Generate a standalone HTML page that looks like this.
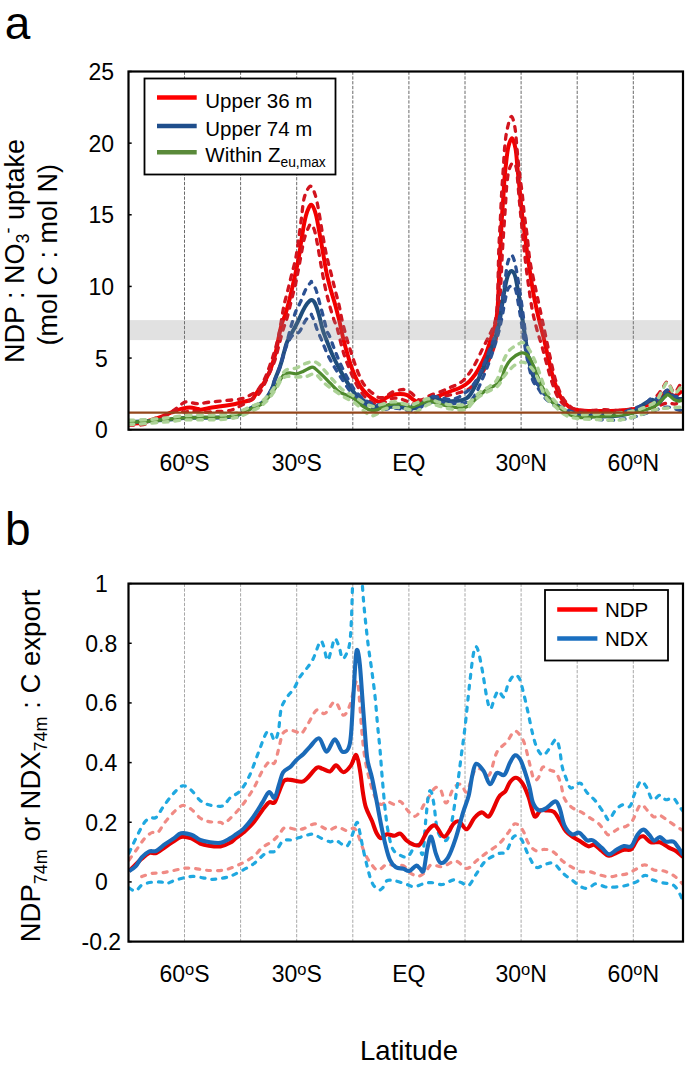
<!DOCTYPE html><html><head><meta charset="utf-8"><style>html,body{margin:0;padding:0;background:#fff;}svg{display:block;}</style></head><body>
<svg width="685" height="1069" viewBox="0 0 685 1069" font-family='"Liberation Sans", sans-serif'>
<defs><clipPath id="ca"><rect x="128.5" y="71.5" width="554.5" height="358.2"/></clipPath><clipPath id="cb"><rect x="128.5" y="583.6" width="554.5" height="358.0"/></clipPath></defs>
<rect width="100%" height="100%" fill="#fff"/>
<text x="4.8" y="39" font-size="46" fill="#000">a</text>
<text x="5" y="544.5" font-size="46" fill="#000">b</text>
<line x1="184.5" y1="71.5" x2="184.5" y2="429.7" stroke="#6a6a6a" stroke-width="1" stroke-dasharray="3.3 1.5"/>
<line x1="240.6" y1="71.5" x2="240.6" y2="429.7" stroke="#6a6a6a" stroke-width="1" stroke-dasharray="3.3 1.5"/>
<line x1="296.7" y1="71.5" x2="296.7" y2="429.7" stroke="#6a6a6a" stroke-width="1" stroke-dasharray="3.3 1.5"/>
<line x1="352.8" y1="71.5" x2="352.8" y2="429.7" stroke="#6a6a6a" stroke-width="1" stroke-dasharray="3.3 1.5"/>
<line x1="408.9" y1="71.5" x2="408.9" y2="429.7" stroke="#6a6a6a" stroke-width="1" stroke-dasharray="3.3 1.5"/>
<line x1="465.0" y1="71.5" x2="465.0" y2="429.7" stroke="#6a6a6a" stroke-width="1" stroke-dasharray="3.3 1.5"/>
<line x1="521.1" y1="71.5" x2="521.1" y2="429.7" stroke="#6a6a6a" stroke-width="1" stroke-dasharray="3.3 1.5"/>
<line x1="577.2" y1="71.5" x2="577.2" y2="429.7" stroke="#6a6a6a" stroke-width="1" stroke-dasharray="3.3 1.5"/>
<line x1="633.3" y1="71.5" x2="633.3" y2="429.7" stroke="#6a6a6a" stroke-width="1" stroke-dasharray="3.3 1.5"/>
<g clip-path="url(#ca)">
<path d="M129.0,423.5 C130.8,423.4 136.5,423.5 140.0,423.0 C143.5,422.5 146.2,421.7 150.0,420.5 C153.8,419.3 158.9,417.6 163.0,416.0 C167.1,414.4 171.4,412.3 174.7,411.0 C178.0,409.7 180.4,409.0 182.9,408.4 C185.4,407.8 187.4,407.3 189.9,407.4 C192.4,407.5 196.2,408.6 198.0,409.0 C199.8,409.4 199.1,410.0 201.0,409.8 C202.9,409.6 205.9,408.6 209.2,408.0 C212.5,407.4 217.0,406.9 220.9,406.3 C224.8,405.7 229.1,405.2 232.6,404.5 C236.1,403.8 238.7,403.0 241.9,402.2 C245.1,401.4 249.5,400.9 251.8,399.5 C254.1,398.1 254.4,395.8 255.8,394.0 C257.2,392.2 258.5,390.6 260.0,388.5 C261.5,386.4 263.3,383.9 264.6,381.7 C265.9,379.4 266.9,377.4 268.0,375.0 C269.1,372.6 269.9,371.2 271.2,367.4 C272.5,363.6 274.4,357.4 275.7,352.4 C276.9,347.4 277.7,342.1 278.7,337.4 C279.7,332.7 280.6,327.9 281.7,324.0 C282.8,320.1 284.0,318.4 285.4,314.1 C286.8,309.8 288.4,304.0 289.8,298.2 C291.2,292.4 292.7,285.8 294.1,279.3 C295.6,272.8 297.3,265.5 298.5,259.0 C299.7,252.5 300.4,246.2 301.4,240.2 C302.4,234.2 303.3,227.8 304.3,222.8 C305.3,217.9 306.4,213.5 307.6,210.5 C308.8,207.5 310.1,204.1 311.5,204.8 C312.9,205.5 314.6,209.8 315.9,214.5 C317.2,219.2 318.3,226.5 319.5,233.0 C320.7,239.5 321.9,246.5 323.1,253.3 C324.3,260.1 325.4,267.3 326.7,273.6 C328.0,279.9 329.7,285.7 331.1,291.0 C332.6,296.3 334.1,300.6 335.4,305.4 C336.7,310.2 337.8,314.5 339.1,319.9 C340.4,325.2 341.6,331.6 343.0,337.5 C344.4,343.4 345.9,349.1 347.7,355.0 C349.4,360.9 351.4,367.3 353.5,372.6 C355.6,377.9 358.1,382.9 360.5,386.6 C362.9,390.3 365.1,392.4 367.6,394.7 C370.1,397.0 373.7,399.5 375.7,400.6 C377.7,401.7 377.9,401.8 379.5,401.5 C381.1,401.2 382.9,399.7 385.0,398.6 C387.1,397.5 389.5,395.9 392.0,395.1 C394.5,394.3 397.7,393.9 400.2,393.9 C402.7,393.9 405.1,394.2 407.2,395.1 C409.3,396.0 411.1,398.3 413.0,399.5 C414.9,400.7 416.9,402.0 418.9,402.5 C420.8,403.0 423.0,402.8 424.7,402.5 C426.4,402.2 427.6,401.7 429.0,401.0 C430.4,400.3 431.2,399.4 433.0,398.5 C434.8,397.6 437.2,396.5 440.0,395.3 C442.8,394.1 446.7,392.8 450.0,391.5 C453.3,390.2 457.2,389.1 460.0,387.8 C462.8,386.5 465.0,385.1 467.0,383.5 C469.0,381.9 470.2,380.8 472.0,378.5 C473.8,376.2 475.8,373.8 478.0,369.9 C480.2,366.0 483.2,360.4 485.5,354.9 C487.8,349.4 489.9,341.9 491.5,336.9 C493.1,331.9 494.2,329.4 495.2,324.9 C496.2,320.4 496.9,317.4 497.5,309.9 C498.1,302.4 498.5,290.0 499.0,280.0 C499.5,270.0 499.9,259.8 500.3,249.9 C500.8,240.1 501.2,229.4 501.7,220.9 C502.2,212.4 502.7,206.4 503.2,199.2 C503.7,192.0 504.1,183.5 504.6,177.5 C505.1,171.5 505.5,168.1 506.1,163.0 C506.7,157.9 507.3,151.1 508.3,147.0 C509.3,142.9 510.7,138.1 511.9,138.3 C513.1,138.6 514.5,143.2 515.5,148.5 C516.5,153.8 517.0,162.9 517.7,170.2 C518.4,177.4 519.2,184.8 519.9,192.0 C520.6,199.2 521.2,206.5 522.0,213.7 C522.8,220.9 523.9,228.2 524.9,235.4 C525.9,242.7 526.4,247.4 527.8,257.2 C529.2,266.9 531.7,283.9 533.5,293.9 C535.3,303.9 536.8,310.1 538.5,317.4 C540.2,324.7 541.9,330.6 543.6,337.6 C545.3,344.6 546.9,352.5 548.6,359.5 C550.3,366.5 551.7,373.5 553.7,379.7 C555.7,385.9 557.9,392.1 560.4,396.6 C562.9,401.1 566.0,404.5 568.8,406.7 C571.6,408.9 573.7,409.3 577.2,410.0 C580.7,410.7 585.4,410.8 590.0,411.0 C594.6,411.2 600.0,411.1 605.0,411.0 C610.0,410.9 615.5,410.8 620.0,410.5 C624.5,410.2 628.7,410.0 632.0,409.5 C635.3,409.0 637.0,408.4 640.0,407.5 C643.0,406.6 647.0,405.2 650.0,404.0 C653.0,402.8 655.2,402.2 658.0,400.0 C660.8,397.8 664.3,391.7 667.0,391.0 C669.7,390.3 671.5,396.0 674.0,396.0 C676.5,396.0 680.7,391.8 682.0,391.0" fill="none" stroke="#f20000" stroke-width="4"  stroke-linejoin="round"/>
<path d="M129.0,423.0 C131.7,422.8 139.8,422.8 145.0,422.0 C150.2,421.2 155.8,419.5 160.0,418.0 C164.2,416.5 167.6,414.4 170.0,413.0 C172.4,411.6 173.1,410.7 174.7,409.5 C176.3,408.3 177.8,407.2 179.4,406.0 C181.0,404.8 182.4,403.2 184.0,402.5 C185.6,401.8 186.4,401.8 188.7,402.0 C191.0,402.2 194.6,403.7 198.0,403.7 C201.4,403.7 205.4,402.6 209.2,402.2 C213.0,401.8 217.0,401.4 220.9,401.0 C224.8,400.6 229.1,400.3 232.6,399.9 C236.1,399.5 239.0,399.5 241.9,398.7 C244.8,397.9 247.7,396.4 250.0,395.2 C252.3,394.0 254.2,393.1 255.9,391.7 C257.6,390.3 258.5,389.3 260.0,387.0 C261.5,384.7 263.3,381.7 265.0,378.0 C266.7,374.3 268.3,369.7 270.0,365.0 C271.7,360.3 273.5,355.2 275.0,350.0 C276.5,344.8 277.9,339.0 279.0,334.0 C280.1,329.0 280.7,324.7 281.5,319.9 C282.3,315.1 283.0,310.2 284.0,305.4 C285.0,300.6 286.4,295.8 287.6,291.0 C288.8,286.2 289.9,281.7 291.2,276.4 C292.5,271.1 294.4,265.0 295.6,259.0 C296.8,253.0 297.5,246.9 298.5,240.2 C299.5,233.4 300.4,225.6 301.4,218.5 C302.4,211.4 302.8,202.9 304.3,197.5 C305.8,192.1 308.5,186.7 310.3,186.2 C312.1,185.7 313.7,190.3 315.1,194.5 C316.5,198.7 317.6,204.8 318.8,211.2 C320.0,217.6 321.1,225.5 322.4,233.0 C323.7,240.5 325.1,249.0 326.7,256.2 C328.3,263.4 330.4,270.6 331.8,276.4 C333.2,282.2 334.2,286.2 335.4,291.0 C336.6,295.8 338.0,300.6 339.1,305.4 C340.2,310.2 340.8,314.5 342.0,319.9 C343.2,325.2 345.0,332.0 346.5,337.5 C348.0,343.0 349.6,347.8 351.2,352.7 C352.8,357.6 354.1,362.0 355.9,366.7 C357.6,371.4 359.8,377.0 361.7,380.7 C363.6,384.4 365.5,386.6 367.6,388.9 C369.8,391.2 372.7,393.3 374.6,394.7 C376.5,396.1 377.3,397.1 379.0,397.5 C380.7,397.9 382.8,397.8 385.0,396.9 C387.2,396.0 389.5,393.4 392.0,392.2 C394.5,391.0 397.9,390.3 400.2,389.9 C402.5,389.5 404.1,389.3 406.0,389.9 C407.9,390.5 410.1,392.0 411.9,393.4 C413.6,394.8 415.1,396.9 416.5,398.0 C417.9,399.1 418.6,399.9 420.0,400.0 C421.4,400.1 423.3,399.2 425.0,398.5 C426.7,397.8 427.3,396.7 430.0,395.5 C432.7,394.3 437.7,392.8 441.0,391.5 C444.3,390.2 447.3,388.7 450.0,387.5 C452.7,386.3 454.6,385.9 457.0,384.5 C459.4,383.1 461.6,382.2 464.4,379.3 C467.1,376.4 470.5,372.0 473.5,366.9 C476.5,361.8 479.8,354.4 482.5,348.9 C485.2,343.4 487.9,338.4 490.0,333.9 C492.1,329.4 493.8,327.6 495.0,322.0 C496.2,316.4 496.9,312.0 497.5,300.0 C498.1,288.0 498.3,263.1 498.8,249.9 C499.3,236.7 499.8,230.6 500.3,220.9 C500.8,211.2 501.2,200.4 501.7,192.0 C502.2,183.6 502.7,177.4 503.2,170.2 C503.7,162.9 504.0,155.0 504.6,148.5 C505.2,142.0 505.7,136.4 506.8,131.1 C507.9,125.8 509.9,117.3 511.2,116.6 C512.5,115.9 513.8,121.4 514.8,126.7 C515.8,132.0 516.3,141.2 517.0,148.5 C517.7,155.8 518.3,162.9 519.1,170.2 C519.9,177.4 521.1,184.8 522.0,192.0 C522.9,199.2 523.4,206.5 524.2,213.7 C525.1,220.9 526.1,227.4 527.1,235.4 C528.1,243.4 528.6,252.7 530.1,261.9 C531.6,271.1 534.2,281.8 536.0,290.5 C537.8,299.2 539.5,306.8 541.0,314.1 C542.5,321.4 543.8,327.0 545.3,334.3 C546.8,341.6 548.6,350.3 550.3,357.9 C552.0,365.5 553.4,373.2 555.4,379.7 C557.4,386.1 559.6,392.1 562.1,396.6 C564.6,401.1 567.7,404.4 570.5,406.7 C573.3,409.0 575.6,409.6 578.9,410.2 C582.1,410.8 585.6,410.6 590.0,410.5 C594.4,410.4 600.0,409.7 605.0,409.7 C610.0,409.7 615.0,410.8 620.0,410.5 C625.0,410.2 630.8,408.9 635.0,408.0 C639.2,407.1 641.7,406.7 645.0,405.0 C648.3,403.3 652.2,400.7 655.0,398.0 C657.8,395.3 659.9,391.7 662.0,389.0 C664.1,386.3 665.5,381.2 667.6,381.8 C669.7,382.4 671.9,392.6 674.4,392.3 C676.9,392.0 681.1,382.1 682.5,380.0" fill="none" stroke="#d2141e" stroke-width="3.3" stroke-dasharray="4.8 6.7" stroke-linecap="round" stroke-linejoin="round"/>
<path d="M129.0,425.0 C130.8,425.0 137.2,425.1 140.0,425.0 C142.8,424.9 143.2,425.1 145.5,424.1 C147.8,423.1 151.5,420.1 153.7,418.9 C155.9,417.7 157.0,417.4 158.6,417.0 C160.2,416.6 161.7,417.1 163.0,416.8 C164.3,416.5 164.6,416.3 166.5,415.4 C168.4,414.5 172.8,412.4 174.7,411.5 C176.6,410.6 176.6,409.9 178.2,410.0 C179.8,410.1 181.8,411.7 184.0,411.9 C186.2,412.1 188.5,411.0 191.7,411.0 C194.9,411.0 199.5,412.0 203.4,412.1 C207.3,412.2 211.1,411.7 215.0,411.5 C218.9,411.3 223.6,411.4 226.7,411.0 C229.8,410.6 231.2,410.2 233.7,409.2 C236.2,408.2 239.2,406.6 241.9,405.1 C244.6,403.6 247.7,401.8 250.0,400.4 C252.3,398.9 254.2,397.8 255.9,396.4 C257.6,395.0 258.5,394.5 260.0,392.3 C261.5,390.1 263.3,386.4 265.0,383.0 C266.7,379.6 268.3,375.8 270.0,372.0 C271.7,368.2 273.5,364.5 275.0,360.0 C276.5,355.5 277.7,350.0 279.0,345.0 C280.3,340.0 281.7,334.4 283.0,330.0 C284.3,325.6 285.5,323.3 286.9,318.5 C288.3,313.7 289.8,306.9 291.2,301.1 C292.6,295.3 294.4,289.0 295.6,283.7 C296.8,278.4 297.5,274.3 298.5,269.2 C299.5,264.1 300.4,258.4 301.4,253.3 C302.4,248.2 303.1,243.2 304.3,238.8 C305.5,234.5 307.5,229.6 308.6,227.2 C309.7,224.8 310.0,224.0 311.0,224.5 C312.0,225.0 313.2,226.3 314.4,230.1 C315.6,233.9 316.8,241.0 318.0,247.5 C319.2,254.0 320.5,262.4 321.7,269.2 C322.9,275.9 324.0,282.0 325.3,288.0 C326.6,294.0 328.2,300.1 329.6,305.4 C331.1,310.7 332.8,316.3 334.0,319.9 C335.2,323.5 336.0,324.3 336.9,327.2 C337.8,330.1 338.3,332.9 339.5,337.5 C340.7,342.1 342.4,349.6 344.2,355.0 C345.9,360.4 347.9,365.1 350.0,370.2 C352.1,375.3 354.5,380.9 357.0,385.4 C359.5,389.9 362.5,394.2 365.2,397.1 C367.9,400.0 371.2,401.7 373.4,402.9 C375.5,404.1 376.2,404.2 378.1,404.1 C380.0,404.0 382.7,402.9 385.0,402.0 C387.3,401.1 389.7,399.1 392.0,398.5 C394.3,397.9 396.7,398.2 399.0,398.6 C401.3,399.0 403.7,400.0 406.0,400.9 C408.3,401.8 410.9,403.2 413.0,403.9 C415.1,404.6 416.9,405.0 418.9,405.0 C420.8,405.0 422.8,404.7 424.7,404.0 C426.6,403.3 427.4,402.1 430.0,401.0 C432.6,399.9 436.7,398.5 440.0,397.5 C443.3,396.5 446.7,395.8 450.0,395.0 C453.3,394.2 457.2,393.3 460.0,392.5 C462.8,391.7 465.0,391.0 467.0,390.0 C469.0,389.0 469.4,389.2 472.0,386.3 C474.6,383.4 479.5,377.5 482.5,372.8 C485.5,368.1 488.0,362.4 490.0,357.9 C492.0,353.4 493.2,350.6 494.5,345.9 C495.8,341.1 496.5,338.7 497.5,329.4 C498.5,320.1 499.7,303.2 500.5,290.0 C501.3,276.8 501.9,260.2 502.5,249.9 C503.1,239.6 503.4,235.4 503.9,228.2 C504.4,220.9 504.9,213.7 505.4,206.4 C505.9,199.2 506.2,190.7 506.8,184.7 C507.4,178.7 508.0,173.8 509.0,170.2 C510.0,166.6 511.4,163.5 512.6,163.0 C513.8,162.5 515.3,163.7 516.2,167.3 C517.1,170.9 517.4,178.2 518.0,184.7 C518.6,191.2 519.2,199.2 519.9,206.4 C520.6,213.7 521.3,220.9 522.0,228.2 C522.7,235.4 523.3,241.5 524.2,249.9 C525.1,258.3 526.3,269.1 527.6,278.7 C528.9,288.3 530.3,298.9 531.8,307.3 C533.3,315.7 535.1,322.7 536.8,329.2 C538.5,335.7 540.2,340.2 541.9,346.1 C543.6,352.0 545.1,358.2 546.9,364.6 C548.7,371.1 550.7,378.9 552.8,384.8 C554.9,390.7 556.9,396.1 559.6,400.0 C562.3,403.9 565.9,406.4 568.8,408.4 C571.7,410.3 573.7,411.2 577.2,411.7 C580.7,412.2 585.4,411.6 590.0,411.5 C594.6,411.4 600.0,411.0 605.0,411.0 C610.0,411.0 614.2,411.7 620.0,411.5 C625.8,411.3 634.2,410.8 640.0,410.0 C645.8,409.2 650.5,408.2 655.0,407.0 C659.5,405.8 663.7,403.5 667.0,403.0 C670.3,402.5 672.3,404.3 675.0,404.0 C677.7,403.7 681.7,401.5 683.0,401.0" fill="none" stroke="#d2141e" stroke-width="3.3" stroke-dasharray="4.8 6.7" stroke-linecap="round" stroke-linejoin="round"/>
<path d="M129.0,422.0 C132.5,421.8 143.2,421.4 150.0,421.0 C156.8,420.6 164.3,420.0 170.0,419.5 C175.7,419.0 179.0,418.3 184.0,418.0 C189.0,417.7 194.0,417.9 200.0,417.8 C206.0,417.7 214.5,417.7 220.0,417.5 C225.5,417.3 229.7,417.1 233.0,416.5 C236.3,415.9 236.3,415.8 240.0,414.0 C243.7,412.2 251.3,407.8 255.0,406.0 C258.7,404.2 260.1,404.3 262.0,403.0 C263.9,401.7 265.2,399.8 266.5,398.0 C267.8,396.2 269.0,394.2 270.0,392.5 C271.0,390.8 271.7,389.7 272.5,387.5 C273.3,385.3 273.8,382.8 275.0,379.5 C276.2,376.2 278.3,371.2 279.5,368.0 C280.7,364.8 281.2,362.6 282.0,360.0 C282.8,357.4 283.2,355.3 284.0,352.4 C284.8,349.5 285.7,345.6 286.9,342.5 C288.1,339.4 289.6,337.0 291.4,333.7 C293.1,330.4 295.5,326.2 297.4,322.5 C299.3,318.8 301.1,314.4 302.7,311.2 C304.3,308.0 305.7,305.4 307.2,303.5 C308.7,301.6 310.2,300.0 311.5,300.0 C312.8,300.0 313.9,301.1 315.1,303.5 C316.3,305.9 317.6,309.9 318.8,314.1 C320.0,318.3 321.3,324.7 322.4,328.6 C323.5,332.5 323.8,333.1 325.5,337.5 C327.2,341.9 330.2,349.8 332.5,355.0 C334.8,360.2 337.0,364.3 339.5,369.0 C342.0,373.7 345.0,378.8 347.7,383.1 C350.4,387.4 353.0,391.6 355.9,394.7 C358.8,397.8 362.1,399.9 365.2,401.8 C368.3,403.8 371.8,405.4 374.6,406.4 C377.4,407.3 378.6,407.5 382.0,407.5 C385.4,407.5 391.0,406.4 395.0,406.5 C399.0,406.6 402.7,407.8 406.0,408.0 C409.3,408.2 412.3,408.5 415.0,408.0 C417.7,407.5 420.0,406.2 422.0,405.0 C424.0,403.8 425.3,401.8 427.0,400.5 C428.7,399.2 429.8,397.6 432.0,397.5 C434.2,397.4 437.0,399.4 440.0,400.0 C443.0,400.6 446.7,401.1 450.0,401.2 C453.3,401.3 457.3,400.9 460.0,400.5 C462.7,400.1 464.3,399.4 466.0,398.5 C467.7,397.6 468.2,397.5 470.0,395.0 C471.8,392.5 474.4,387.5 476.5,383.3 C478.6,379.1 480.5,374.6 482.5,369.9 C484.5,365.2 486.5,359.9 488.5,354.9 C490.5,349.9 492.8,344.9 494.5,339.9 C496.2,334.9 497.8,330.6 499.0,324.9 C500.2,319.1 501.0,311.6 502.0,305.4 C503.0,299.2 504.0,292.5 505.0,287.5 C506.0,282.5 506.8,278.2 507.9,275.5 C509.0,272.8 510.4,270.8 511.7,271.0 C513.0,271.2 514.1,272.5 515.4,277.0 C516.6,281.5 518.0,290.4 519.2,297.9 C520.5,305.4 521.6,313.6 522.9,321.9 C524.1,330.1 525.5,339.9 526.7,347.4 C528.0,354.9 529.0,361.4 530.4,366.9 C531.8,372.4 533.3,376.9 534.9,380.3 C536.5,383.7 537.9,384.0 540.2,387.0 C542.5,390.0 545.5,394.9 548.6,398.2 C551.7,401.5 555.1,404.2 558.7,406.7 C562.4,409.2 566.9,412.0 570.5,413.4 C574.1,414.8 575.7,414.6 580.6,415.1 C585.5,415.6 593.4,416.4 600.0,416.5 C606.6,416.6 614.5,416.2 620.0,415.5 C625.5,414.8 629.5,413.6 633.0,412.0 C636.5,410.4 637.8,408.0 641.0,406.0 C644.2,404.0 649.2,400.2 652.1,399.8 C655.0,399.4 655.8,404.5 658.3,403.5 C660.8,402.5 664.3,394.4 667.0,393.6 C669.7,392.8 671.7,397.6 674.4,398.5 C677.1,399.4 681.6,398.9 683.0,399.0" fill="none" stroke="#1f4e7c" stroke-width="4"  stroke-linejoin="round"/>
<path d="M129.0,421.0 C132.5,420.8 143.2,420.4 150.0,420.0 C156.8,419.6 164.3,419.0 170.0,418.5 C175.7,418.0 179.0,417.3 184.0,417.0 C189.0,416.7 194.0,416.9 200.0,416.8 C206.0,416.7 214.5,416.7 220.0,416.5 C225.5,416.3 229.7,416.2 233.0,415.5 C236.3,414.8 236.3,413.7 240.0,412.0 C243.7,410.3 251.3,407.1 255.0,405.5 C258.7,403.9 260.1,403.8 262.0,402.5 C263.9,401.2 265.2,399.2 266.5,397.5 C267.8,395.8 269.0,393.8 270.0,392.0 C271.0,390.2 271.7,389.2 272.5,387.0 C273.3,384.8 273.8,382.2 275.0,379.0 C276.2,375.8 278.3,370.8 279.5,367.5 C280.7,364.2 281.2,362.1 282.0,359.5 C282.8,356.9 283.2,354.7 284.0,352.0 C284.8,349.3 285.6,346.8 286.5,343.5 C287.4,340.2 288.6,335.5 289.5,332.0 C290.4,328.5 291.1,326.0 292.2,322.5 C293.3,319.0 294.5,314.6 295.9,311.2 C297.3,307.8 298.8,305.8 300.4,302.2 C302.0,298.6 303.9,292.8 305.7,289.5 C307.5,286.2 310.0,283.4 311.0,282.2 C312.0,281.0 310.7,281.0 311.5,282.2 C312.3,283.4 314.6,286.1 315.9,289.5 C317.2,292.9 318.2,297.7 319.5,302.5 C320.8,307.3 322.6,313.8 323.8,318.5 C325.1,323.2 326.1,328.1 327.0,331.0 C327.9,333.9 328.2,332.8 329.5,336.0 C330.8,339.2 333.0,345.7 334.9,350.4 C336.8,355.1 338.6,359.7 340.7,364.4 C342.8,369.1 345.4,374.1 347.7,378.4 C350.0,382.7 352.0,386.6 354.7,390.1 C357.4,393.6 360.9,397.1 364.0,399.4 C367.1,401.7 370.4,403.2 373.4,404.1 C376.4,405.0 378.4,404.9 382.0,405.0 C385.6,405.1 391.0,404.4 395.0,404.5 C399.0,404.6 402.7,405.3 406.0,405.5 C409.3,405.7 411.8,406.2 415.0,405.5 C418.2,404.8 422.2,402.5 425.0,401.0 C427.8,399.5 429.5,397.1 432.0,396.5 C434.5,395.9 437.0,397.0 440.0,397.5 C443.0,398.0 447.0,399.5 450.0,399.5 C453.0,399.5 455.6,398.6 458.0,397.5 C460.4,396.4 462.5,394.4 464.5,393.0 C466.5,391.6 467.8,391.6 470.0,389.0 C472.2,386.4 475.7,381.5 478.0,377.3 C480.3,373.1 482.0,368.6 484.0,363.9 C486.0,359.2 488.0,354.1 490.0,348.9 C492.0,343.6 494.3,338.4 496.0,332.4 C497.7,326.4 499.2,319.6 500.4,312.9 C501.6,306.2 502.5,298.2 503.4,292.0 C504.3,285.8 504.9,280.5 505.7,275.5 C506.4,270.5 506.9,265.4 507.9,262.0 C508.9,258.6 510.4,254.7 511.7,255.2 C513.0,255.7 514.1,259.6 515.4,265.0 C516.6,270.4 518.0,279.5 519.2,287.5 C520.5,295.5 521.8,304.7 522.9,312.9 C524.0,321.1 524.8,329.4 525.9,336.9 C527.0,344.4 528.5,351.9 529.7,357.9 C531.0,363.9 532.0,368.3 533.4,372.8 C534.8,377.3 536.0,381.1 537.9,384.8 C539.8,388.5 542.1,392.0 545.0,395.0 C547.9,398.0 551.7,400.7 555.0,403.0 C558.3,405.3 561.2,407.3 565.0,409.0 C568.8,410.7 572.2,412.2 578.0,413.0 C583.8,413.8 593.0,414.0 600.0,414.0 C607.0,414.0 614.2,414.0 620.0,413.0 C625.8,412.0 630.8,409.5 635.0,408.0 C639.2,406.5 642.2,405.7 645.0,404.0 C647.8,402.3 649.5,398.8 652.0,398.0 C654.5,397.2 657.5,400.3 660.0,399.0 C662.5,397.7 664.7,390.5 667.0,390.0 C669.3,389.5 671.3,395.0 674.0,396.0 C676.7,397.0 681.5,396.0 683.0,396.0" fill="none" stroke="#2b5193" stroke-width="3.3" stroke-dasharray="4.8 6.7" stroke-linecap="round" stroke-linejoin="round"/>
<path d="M129.0,423.0 C132.5,422.8 143.2,422.4 150.0,422.0 C156.8,421.6 164.3,421.0 170.0,420.5 C175.7,420.0 179.0,419.3 184.0,419.0 C189.0,418.7 194.0,418.9 200.0,418.8 C206.0,418.7 214.5,418.7 220.0,418.5 C225.5,418.3 229.7,417.9 233.0,417.5 C236.3,417.1 236.3,417.8 240.0,416.0 C243.7,414.2 251.3,408.6 255.0,406.5 C258.7,404.4 260.1,404.8 262.0,403.5 C263.9,402.2 265.2,400.2 266.5,398.5 C267.8,396.8 269.0,394.8 270.0,393.0 C271.0,391.2 271.7,390.2 272.5,388.0 C273.3,385.8 273.8,383.2 275.0,380.0 C276.2,376.8 278.3,371.8 279.5,368.5 C280.7,365.2 281.2,363.1 282.0,360.5 C282.8,357.9 283.1,355.8 284.0,353.0 C284.9,350.2 286.2,346.3 287.5,343.5 C288.8,340.7 290.6,337.7 292.0,336.0 C293.4,334.3 294.7,334.3 296.0,333.5 C297.3,332.7 298.1,333.6 299.7,331.4 C301.3,329.2 303.8,322.9 305.7,320.2 C307.6,317.5 310.0,315.9 311.0,315.0 C312.0,314.1 310.9,313.9 311.5,315.0 C312.1,316.1 313.4,318.9 314.4,321.4 C315.4,323.9 316.0,326.7 317.3,330.0 C318.6,333.3 320.2,336.8 322.0,341.0 C323.8,345.2 325.7,350.5 327.8,355.0 C329.9,359.5 332.4,363.6 334.9,367.9 C337.4,372.2 340.3,376.6 343.0,380.7 C345.7,384.8 348.1,388.7 351.2,392.4 C354.3,396.1 358.0,400.2 361.7,402.9 C365.4,405.6 370.0,407.7 373.4,408.8 C376.8,409.9 378.4,409.6 382.0,409.5 C385.6,409.4 391.0,407.9 395.0,408.0 C399.0,408.1 402.7,409.7 406.0,410.0 C409.3,410.3 411.8,410.8 415.0,410.0 C418.2,409.2 421.8,406.4 425.0,405.0 C428.2,403.6 431.5,401.9 434.0,401.5 C436.5,401.1 437.3,402.2 440.0,402.5 C442.7,402.8 446.7,402.8 450.0,403.0 C453.3,403.2 457.3,403.6 460.0,403.5 C462.7,403.4 464.2,403.0 466.0,402.5 C467.8,402.0 469.2,402.2 471.0,400.5 C472.8,398.8 474.6,395.9 476.5,392.3 C478.4,388.7 480.5,383.5 482.5,378.8 C484.5,374.1 486.6,368.9 488.5,363.9 C490.4,358.9 492.1,353.9 493.7,348.9 C495.3,343.9 496.8,339.1 498.2,333.9 C499.6,328.6 500.9,322.9 502.0,317.4 C503.1,311.9 504.0,305.6 505.0,300.9 C506.0,296.2 506.8,291.5 507.9,289.0 C509.0,286.5 510.4,286.0 511.7,286.0 C513.0,286.0 514.3,286.0 515.4,289.0 C516.5,292.0 517.3,297.4 518.4,303.9 C519.5,310.4 521.0,319.9 522.2,327.9 C523.5,335.9 524.6,344.9 525.9,351.9 C527.1,358.9 528.5,364.9 529.7,369.9 C531.0,374.9 532.0,378.8 533.4,381.8 C534.8,384.8 536.0,385.1 537.9,387.8 C539.8,390.5 542.1,395.0 545.0,398.0 C547.9,401.0 551.7,403.7 555.0,406.0 C558.3,408.3 561.2,410.3 565.0,412.0 C568.8,413.7 572.2,414.7 578.0,416.0 C583.8,417.3 594.3,418.9 600.0,419.6 C605.7,420.3 608.3,420.3 612.4,420.2 C616.5,420.1 620.9,419.6 624.8,419.0 C628.7,418.4 631.8,417.7 636.0,416.5 C640.2,415.3 644.8,413.6 650.0,412.0 C655.2,410.4 662.1,407.5 667.0,407.2 C671.9,406.9 676.7,410.0 679.4,410.3 C682.1,410.6 682.4,409.2 683.0,409.0" fill="none" stroke="#2b5193" stroke-width="3.3" stroke-dasharray="4.8 6.7" stroke-linecap="round" stroke-linejoin="round"/>
<path d="M129.0,422.0 C130.8,421.9 136.5,421.8 140.0,421.6 C143.5,421.4 146.7,421.3 150.0,421.0 C153.3,420.7 156.7,420.3 160.0,420.0 C163.3,419.7 166.0,419.6 170.0,419.2 C174.0,418.8 179.0,418.1 184.0,417.8 C189.0,417.5 194.0,417.6 200.0,417.5 C206.0,417.4 214.5,417.6 220.0,417.3 C225.5,417.1 229.7,416.6 233.0,416.0 C236.3,415.4 237.2,415.1 240.0,414.0 C242.8,412.9 246.7,410.8 250.0,409.3 C253.3,407.8 257.6,406.3 259.9,405.0 C262.2,403.7 262.4,402.9 264.0,401.5 C265.6,400.1 267.7,398.1 269.3,396.3 C270.9,394.5 272.1,392.4 273.5,390.5 C274.9,388.6 276.1,386.6 277.4,384.6 C278.6,382.6 279.7,380.3 281.0,378.5 C282.3,376.7 283.5,374.9 285.0,374.0 C286.5,373.1 288.2,372.8 290.0,372.8 C291.8,372.8 293.8,374.0 296.0,373.8 C298.2,373.6 300.5,372.5 303.0,371.4 C305.5,370.3 309.2,367.8 311.2,367.3 C313.2,366.8 313.2,367.2 315.0,368.5 C316.8,369.8 319.5,372.5 322.0,374.9 C324.5,377.3 327.5,380.4 330.2,383.1 C332.9,385.8 335.9,389.3 338.4,391.2 C340.9,393.1 342.9,393.5 345.4,394.7 C347.9,395.9 350.8,396.4 353.5,398.2 C356.2,400.0 359.0,403.4 361.7,405.3 C364.4,407.2 367.4,409.1 369.9,409.9 C372.4,410.7 374.4,410.6 376.9,409.9 C379.4,409.2 382.1,406.8 385.0,405.8 C387.9,404.8 390.8,404.0 394.3,403.9 C397.8,403.8 403.4,404.4 406.0,405.0 C408.6,405.6 408.5,407.3 410.0,407.5 C411.5,407.7 413.3,406.6 415.0,406.0 C416.7,405.4 418.2,404.8 420.0,404.0 C421.8,403.2 424.2,402.0 426.0,401.5 C427.8,401.0 429.2,400.7 431.0,401.0 C432.8,401.3 434.7,402.8 437.0,403.5 C439.3,404.2 442.0,404.9 445.0,405.5 C448.0,406.1 452.0,406.9 455.0,407.3 C458.0,407.7 460.7,408.1 463.0,407.8 C465.3,407.5 466.5,407.3 469.0,405.5 C471.5,403.7 475.0,399.5 478.0,396.8 C481.0,394.1 484.0,391.3 487.0,389.3 C490.0,387.3 493.5,386.8 496.0,384.8 C498.5,382.8 500.5,380.0 502.0,377.3 C503.5,374.6 503.5,371.4 505.0,368.4 C506.5,365.4 508.5,361.9 511.0,359.4 C513.5,356.9 517.4,354.3 519.9,353.4 C522.4,352.5 524.0,352.8 525.9,354.0 C527.8,355.2 529.3,357.5 531.0,360.5 C532.7,363.5 534.2,367.7 536.0,372.0 C537.8,376.3 539.6,381.9 542.0,386.5 C544.4,391.1 547.2,396.2 550.3,399.9 C553.4,403.5 557.0,405.9 560.4,408.4 C563.8,410.9 567.1,413.6 570.5,415.1 C573.9,416.6 575.7,417.3 580.6,417.5 C585.5,417.7 594.7,416.8 600.0,416.5 C605.3,416.2 608.3,416.2 612.4,415.9 C616.5,415.6 620.7,415.3 624.8,414.7 C628.9,414.1 633.1,413.2 637.2,412.2 C641.3,411.2 646.3,409.8 649.6,408.5 C652.9,407.2 654.6,406.6 657.1,404.7 C659.6,402.8 662.6,398.9 664.5,397.3 C666.4,395.7 666.6,394.4 668.2,394.8 C669.9,395.2 672.5,398.8 674.4,399.8 C676.3,400.8 677.8,401.2 679.4,401.0 C681.0,400.8 683.2,398.9 684.0,398.5" fill="none" stroke="#4f8a2e" stroke-width="3.3"  stroke-linejoin="round"/>
<path d="M129.0,420.3 C130.8,420.2 136.5,420.1 140.0,420.0 C143.5,419.9 146.7,419.8 150.0,419.5 C153.3,419.2 156.7,418.8 160.0,418.5 C163.3,418.2 166.0,418.0 170.0,417.5 C174.0,417.0 179.0,416.0 184.0,415.6 C189.0,415.2 194.0,415.3 200.0,415.2 C206.0,415.1 214.5,415.2 220.0,415.0 C225.5,414.8 229.7,414.6 233.0,414.0 C236.3,413.4 237.2,412.7 240.0,411.5 C242.8,410.3 246.7,408.4 250.0,407.0 C253.3,405.6 257.6,404.2 259.9,403.0 C262.2,401.8 262.4,400.9 264.0,399.5 C265.6,398.1 267.7,396.1 269.3,394.3 C270.9,392.5 272.1,390.4 273.5,388.5 C274.9,386.6 276.1,384.6 277.4,382.6 C278.6,380.6 279.5,378.6 281.0,376.5 C282.5,374.4 283.7,371.4 286.2,370.0 C288.7,368.6 293.1,369.0 295.9,368.1 C298.7,367.2 301.2,365.3 303.0,364.5 C304.8,363.7 305.0,363.7 306.6,363.2 C308.2,362.7 310.5,361.4 312.4,361.5 C314.3,361.6 316.0,362.1 318.0,363.5 C320.0,364.9 321.7,367.3 324.3,370.2 C326.9,373.1 330.6,377.4 333.7,380.7 C336.8,384.0 339.7,387.6 343.0,390.1 C346.3,392.6 350.0,393.8 353.5,395.9 C357.0,398.0 360.7,401.1 364.0,402.9 C367.3,404.6 370.3,406.2 373.4,406.4 C376.5,406.6 379.1,404.9 382.7,404.1 C386.3,403.3 390.4,401.7 395.0,401.8 C399.6,401.9 405.8,405.1 410.0,405.0 C414.2,404.9 417.0,402.5 420.0,401.5 C423.0,400.5 425.7,399.0 428.0,398.8 C430.3,398.6 432.0,399.9 434.0,400.5 C436.0,401.1 437.3,401.8 440.0,402.5 C442.7,403.2 446.7,404.4 450.0,404.8 C453.3,405.2 457.3,405.1 460.0,405.0 C462.7,404.9 464.0,404.8 466.0,404.0 C468.0,403.2 469.7,402.0 472.0,400.0 C474.3,398.0 477.0,394.3 480.0,392.0 C483.0,389.7 487.1,388.2 490.0,386.0 C492.9,383.8 495.3,383.0 497.5,378.8 C499.7,374.6 501.4,365.6 503.4,360.9 C505.4,356.2 507.1,353.0 509.4,350.4 C511.6,347.8 514.6,346.4 516.9,345.1 C519.2,343.8 521.2,341.7 523.4,342.7 C525.6,343.7 527.7,347.1 530.0,351.0 C532.3,354.9 534.5,359.8 537.0,366.0 C539.5,372.2 542.2,382.2 545.3,388.1 C548.4,394.0 552.0,398.0 555.4,401.6 C558.8,405.2 561.9,407.9 565.5,410.0 C569.1,412.1 571.5,413.8 577.2,414.5 C583.0,415.2 592.9,414.2 600.0,414.0 C607.1,413.8 613.8,413.7 620.0,413.0 C626.2,412.3 632.0,411.3 637.0,410.0 C642.0,408.7 646.7,406.7 650.0,405.0 C653.3,403.3 655.0,402.3 657.0,400.0 C659.0,397.7 660.2,393.9 662.0,391.0 C663.8,388.1 665.5,382.0 667.6,382.4 C669.7,382.8 671.8,393.4 674.4,393.6 C677.0,393.8 681.6,385.3 683.0,383.6" fill="none" stroke="#acd296" stroke-width="3.4" stroke-dasharray="4.8 6.7" stroke-linecap="round" stroke-linejoin="round"/>
<path d="M129.0,424.3 C130.8,424.2 136.5,424.2 140.0,424.0 C143.5,423.8 146.7,423.6 150.0,423.3 C153.3,423.0 156.7,422.6 160.0,422.3 C163.3,422.0 166.0,422.0 170.0,421.6 C174.0,421.2 179.0,420.3 184.0,420.0 C189.0,419.7 194.0,419.9 200.0,419.8 C206.0,419.7 214.5,419.9 220.0,419.6 C225.5,419.3 229.7,418.5 233.0,418.0 C236.3,417.5 237.2,417.5 240.0,416.5 C242.8,415.5 246.7,413.4 250.0,411.8 C253.3,410.2 257.6,408.4 259.9,407.0 C262.2,405.6 262.4,404.9 264.0,403.5 C265.6,402.1 267.7,400.1 269.3,398.3 C270.9,396.5 272.1,394.4 273.5,392.5 C274.9,390.6 276.1,388.6 277.4,386.6 C278.6,384.6 279.6,382.2 281.0,380.5 C282.4,378.8 283.5,377.1 286.0,376.5 C288.5,375.9 293.1,377.1 295.9,377.1 C298.7,377.1 301.0,376.7 303.0,376.5 C305.0,376.3 305.8,376.6 307.7,376.1 C309.6,375.6 312.6,373.3 314.7,373.7 C316.8,374.1 318.4,376.8 320.0,378.4 C321.6,380.0 322.0,381.2 324.3,383.1 C326.6,385.1 330.4,387.8 333.7,390.1 C337.0,392.4 340.7,395.0 344.2,397.1 C347.7,399.2 351.4,400.6 354.7,402.9 C358.0,405.2 361.3,409.0 364.0,411.1 C366.7,413.2 368.8,415.4 371.1,415.8 C373.5,416.2 375.8,414.6 378.1,413.4 C380.4,412.2 381.9,409.8 385.0,408.8 C388.1,407.8 392.5,407.2 396.7,407.4 C400.9,407.6 407.1,409.1 410.0,410.0 C412.9,410.9 412.5,412.6 414.2,412.5 C415.9,412.4 417.5,410.9 420.0,409.5 C422.5,408.1 426.5,404.7 429.4,404.0 C432.3,403.3 434.5,404.8 437.6,405.5 C440.7,406.2 443.5,407.8 448.1,408.5 C452.7,409.2 460.5,410.9 465.0,409.5 C469.5,408.1 471.7,402.8 475.0,400.0 C478.3,397.2 481.2,395.3 485.0,393.0 C488.8,390.7 494.4,388.9 497.5,386.3 C500.6,383.7 501.4,380.0 503.4,377.3 C505.4,374.6 507.1,372.1 509.4,369.9 C511.6,367.7 514.4,365.1 516.9,363.9 C519.4,362.6 521.9,361.6 524.4,362.4 C526.9,363.1 529.6,365.7 531.9,368.4 C534.1,371.1 535.7,374.1 537.9,378.8 C540.1,383.5 542.4,392.0 545.3,396.6 C548.2,401.2 552.0,403.6 555.4,406.7 C558.8,409.8 561.9,413.1 565.5,415.1 C569.1,417.1 571.5,417.8 577.2,418.5 C583.0,419.2 592.9,419.4 600.0,419.6 C607.1,419.9 613.8,420.6 620.0,420.0 C626.2,419.4 631.2,417.6 637.2,415.9 C643.2,414.2 650.6,411.0 655.8,409.7 C661.0,408.4 663.7,408.4 668.2,408.0 C672.7,407.6 680.5,407.2 683.0,407.0" fill="none" stroke="#acd296" stroke-width="3.4" stroke-dasharray="4.8 6.7" stroke-linecap="round" stroke-linejoin="round"/>
</g>
<line x1="128.5" y1="412.6" x2="683.0" y2="412.6" stroke="#94461a" stroke-width="2.1"/>
<rect x="128.5" y="320.1" width="554.5" height="20" fill="#888888" fill-opacity="0.25"/>
<rect x="128.5" y="71.5" width="554.5" height="358.2" fill="none" stroke="#000" stroke-width="2.2"/>
<line x1="128.5" y1="71.50" x2="131.7" y2="71.50" stroke="#000" stroke-width="1.5"/>
<text x="101.3" y="79.9" font-size="23" text-anchor="middle" fill="#000">25</text>
<line x1="128.5" y1="143.14" x2="131.7" y2="143.14" stroke="#000" stroke-width="1.5"/>
<text x="101.3" y="151.5" font-size="23" text-anchor="middle" fill="#000">20</text>
<line x1="128.5" y1="214.78" x2="131.7" y2="214.78" stroke="#000" stroke-width="1.5"/>
<text x="101.3" y="223.2" font-size="23" text-anchor="middle" fill="#000">15</text>
<line x1="128.5" y1="286.42" x2="131.7" y2="286.42" stroke="#000" stroke-width="1.5"/>
<text x="101.3" y="294.8" font-size="23" text-anchor="middle" fill="#000">10</text>
<line x1="128.5" y1="358.06" x2="131.7" y2="358.06" stroke="#000" stroke-width="1.5"/>
<text x="101.3" y="366.5" font-size="23" text-anchor="middle" fill="#000">5</text>
<line x1="128.5" y1="429.70" x2="131.7" y2="429.70" stroke="#000" stroke-width="1.5"/>
<text x="101.3" y="438.1" font-size="23" text-anchor="middle" fill="#000">0</text>
<text x="184.5" y="471.0" font-size="23" text-anchor="middle" fill="#000">60<tspan font-size="16.5" dy="-7.3">o</tspan><tspan dy="7.3">S</tspan></text>
<text x="296.7" y="471.0" font-size="23" text-anchor="middle" fill="#000">30<tspan font-size="16.5" dy="-7.3">o</tspan><tspan dy="7.3">S</tspan></text>
<text x="408.9" y="471.0" font-size="23" text-anchor="middle" fill="#000">EQ</text>
<text x="521.1" y="471.0" font-size="23" text-anchor="middle" fill="#000">30<tspan font-size="16.5" dy="-7.3">o</tspan><tspan dy="7.3">N</tspan></text>
<text x="633.3" y="471.0" font-size="23" text-anchor="middle" fill="#000">60<tspan font-size="16.5" dy="-7.3">o</tspan><tspan dy="7.3">N</tspan></text>
<rect x="144.5" y="78.5" width="191" height="96" fill="#fff" stroke="#000" stroke-width="1.8"/>
<line x1="157" y1="97.6" x2="196.7" y2="97.6" stroke="#ff0000" stroke-width="4.5"/>
<text x="205.3" y="107.5" font-size="20.5" fill="#000">Upper 36 m</text>
<line x1="157" y1="126.1" x2="196.7" y2="126.1" stroke="#1f4e8c" stroke-width="4.5"/>
<text x="205.3" y="136.0" font-size="20.5" fill="#000">Upper 74 m</text>
<line x1="157" y1="152.2" x2="196.7" y2="152.2" stroke="#5a8a3a" stroke-width="4.5"/>
<text x="205.3" y="162.1" font-size="20.5" fill="#000">Within Z<tspan font-size="13.8" dy="5.3">eu,max</tspan></text>
<text transform="translate(24,251) rotate(-90)" font-size="27" text-anchor="middle" fill="#000">NDP : NO<tspan font-size="18" dy="5">3</tspan><tspan font-size="18" dy="-15">-</tspan><tspan dy="10"> uptake</tspan></text>
<text transform="translate(56.6,254.8) rotate(-90)" font-size="27" text-anchor="middle" fill="#000">(mol C : mol N)</text>
<line x1="184.5" y1="583.6" x2="184.5" y2="941.6" stroke="#a8a8a8" stroke-width="1" stroke-dasharray="3.3 1.5"/>
<line x1="240.6" y1="583.6" x2="240.6" y2="941.6" stroke="#a8a8a8" stroke-width="1" stroke-dasharray="3.3 1.5"/>
<line x1="296.7" y1="583.6" x2="296.7" y2="941.6" stroke="#a8a8a8" stroke-width="1" stroke-dasharray="3.3 1.5"/>
<line x1="352.8" y1="583.6" x2="352.8" y2="941.6" stroke="#a8a8a8" stroke-width="1" stroke-dasharray="3.3 1.5"/>
<line x1="408.9" y1="583.6" x2="408.9" y2="941.6" stroke="#a8a8a8" stroke-width="1" stroke-dasharray="3.3 1.5"/>
<line x1="465.0" y1="583.6" x2="465.0" y2="941.6" stroke="#a8a8a8" stroke-width="1" stroke-dasharray="3.3 1.5"/>
<line x1="521.1" y1="583.6" x2="521.1" y2="941.6" stroke="#a8a8a8" stroke-width="1" stroke-dasharray="3.3 1.5"/>
<line x1="577.2" y1="583.6" x2="577.2" y2="941.6" stroke="#a8a8a8" stroke-width="1" stroke-dasharray="3.3 1.5"/>
<line x1="633.3" y1="583.6" x2="633.3" y2="941.6" stroke="#a8a8a8" stroke-width="1" stroke-dasharray="3.3 1.5"/>
<g clip-path="url(#cb)">
<path d="M129.0,860.0 C130.4,858.1 134.7,852.2 137.3,848.6 C139.9,845.0 142.2,841.1 144.6,838.4 C147.0,835.7 149.7,833.6 151.9,832.6 C154.1,831.6 155.5,834.3 157.7,832.6 C159.9,830.9 162.3,825.7 165.0,822.3 C167.7,818.9 170.9,814.9 173.8,812.1 C176.7,809.3 179.7,806.0 182.6,805.5 C185.5,805.0 188.4,807.1 191.3,809.2 C194.2,811.3 197.2,815.9 200.1,818.0 C203.0,820.1 205.4,820.9 208.8,821.6 C212.2,822.3 217.8,822.1 220.5,822.3 C223.2,822.5 221.8,825.4 225.0,823.0 C228.2,820.6 235.3,813.6 240.0,808.0 C244.7,802.4 249.3,795.5 253.1,789.3 C256.9,783.0 259.7,775.2 262.5,770.5 C265.3,765.8 267.9,762.5 269.9,761.2 C271.9,760.0 273.0,765.5 274.6,763.0 C276.2,760.5 277.9,751.2 279.3,746.2 C280.7,741.2 281.2,735.8 283.1,733.1 C285.0,730.5 287.7,730.3 290.5,730.3 C293.3,730.3 297.9,732.7 299.9,733.1 C301.9,733.5 301.1,734.2 302.5,732.6 C303.9,731.0 305.9,727.1 308.3,723.4 C310.7,719.6 313.8,711.8 316.6,710.1 C319.4,708.4 321.9,714.8 325.0,713.4 C328.1,712.0 331.8,701.5 334.9,701.8 C337.9,702.1 340.8,714.5 343.3,715.1 C345.8,715.7 348.0,710.1 349.9,705.1 C351.8,700.1 353.6,689.1 354.9,685.2 C356.1,681.3 356.7,680.1 357.4,681.8 C358.1,683.4 358.4,687.3 359.1,695.1 C359.8,702.9 360.7,718.4 361.6,728.4 C362.5,738.4 363.2,746.8 364.4,755.0 C365.6,763.2 367.1,770.4 368.9,777.4 C370.6,784.4 372.9,792.4 374.9,796.9 C376.9,801.4 378.9,803.6 380.9,804.4 C382.9,805.1 384.6,801.4 386.9,801.4 C389.1,801.4 392.1,804.4 394.4,804.4 C396.6,804.4 398.4,800.6 400.4,801.4 C402.4,802.1 404.1,806.4 406.3,808.9 C408.5,811.4 411.6,815.8 413.8,816.3 C416.1,816.8 417.8,814.4 419.8,811.9 C421.8,809.4 424.5,803.1 425.8,801.0 C427.1,798.9 426.0,801.5 427.5,799.3 C429.0,797.1 432.8,789.6 435.0,788.0 C437.2,786.4 438.7,787.4 440.6,789.9 C442.5,792.4 444.0,803.3 446.2,803.0 C448.4,802.7 451.2,791.1 453.7,788.0 C456.2,784.9 459.0,783.7 461.2,784.3 C463.4,784.9 464.6,794.0 466.8,791.8 C469.0,789.6 471.8,775.0 474.3,771.2 C476.8,767.5 479.3,768.7 481.8,769.3 C484.3,769.9 486.8,777.7 489.3,774.9 C491.8,772.1 493.9,757.9 496.8,752.4 C499.7,746.9 504.0,745.3 506.9,741.8 C509.8,738.3 512.1,732.3 514.4,731.3 C516.6,730.3 518.6,733.5 520.4,735.8 C522.1,738.0 523.4,740.3 524.9,744.8 C526.4,749.3 527.9,757.1 529.4,762.8 C530.9,768.5 532.4,776.7 533.9,779.2 C535.4,781.7 536.9,779.7 538.4,777.7 C539.9,775.7 540.8,768.5 542.8,767.2 C544.8,766.0 548.0,769.2 550.3,770.2 C552.5,771.2 554.5,771.0 556.3,773.2 C558.0,775.5 559.4,779.5 560.8,783.7 C562.1,787.9 562.5,794.5 564.4,798.4 C566.2,802.3 569.1,805.1 571.9,807.4 C574.6,809.6 577.9,810.2 580.9,811.9 C583.9,813.6 586.9,815.8 589.9,817.8 C592.9,819.8 596.4,821.8 598.8,823.8 C601.1,825.8 602.3,828.1 604.0,830.0 C605.7,831.9 606.7,835.1 609.0,834.9 C611.3,834.7 615.0,830.4 618.0,828.9 C621.0,827.4 624.4,827.4 626.9,825.9 C629.4,824.4 630.6,823.4 632.9,819.9 C635.1,816.4 637.9,806.4 640.4,804.9 C642.9,803.4 645.6,808.9 647.9,810.9 C650.1,812.9 651.9,816.1 653.9,816.9 C655.9,817.6 657.4,814.6 659.9,815.4 C662.4,816.1 665.9,819.4 668.9,821.4 C671.9,823.4 675.4,825.9 677.8,827.4 C680.1,828.9 682.1,829.9 683.0,830.4" fill="none" stroke="#f08a84" stroke-width="3.2" stroke-dasharray="4 7" stroke-linecap="round" stroke-linejoin="round"/>
<path d="M141.7,876.6 C143.4,876.1 148.5,874.0 151.9,873.4 C155.3,872.8 158.4,873.2 162.1,872.7 C165.8,872.2 170.2,871.2 173.8,870.5 C177.5,869.8 180.8,868.7 184.0,868.3 C187.2,867.9 189.6,868.0 192.8,868.3 C196.0,868.5 199.8,869.4 203.0,869.8 C206.2,870.2 208.1,870.5 211.8,870.5 C215.5,870.5 220.3,870.8 225.0,869.8 C229.7,868.8 235.3,866.4 240.0,864.2 C244.7,862.0 249.3,859.5 253.1,856.7 C256.9,853.9 259.4,849.8 262.5,847.3 C265.6,844.8 269.0,843.9 271.8,841.7 C274.6,839.5 277.1,836.6 279.3,834.2 C281.5,831.9 282.1,828.4 284.9,827.6 C287.7,826.8 293.1,829.3 296.2,829.5 C299.3,829.7 300.6,829.5 303.7,828.6 C306.8,827.7 311.3,823.9 314.9,823.9 C318.4,823.9 322.5,827.6 325.0,828.6 C327.5,829.6 327.9,830.1 330.0,829.8 C332.1,829.5 334.8,826.7 337.5,826.8 C340.2,826.9 343.8,830.4 346.5,830.6 C349.2,830.9 352.0,827.4 354.0,828.3 C356.0,829.2 356.7,831.8 358.4,835.8 C360.1,839.8 362.4,847.8 364.4,852.3 C366.4,856.8 368.1,859.8 370.4,862.8 C372.6,865.8 375.1,870.0 377.9,870.2 C380.6,870.5 384.1,865.0 386.9,864.3 C389.6,863.5 391.6,865.5 394.4,865.7 C397.1,865.9 400.7,864.5 403.4,865.7 C406.1,867.0 408.3,871.5 410.8,873.2 C413.3,875.0 415.8,876.5 418.3,876.2 C420.8,876.0 423.7,873.6 425.8,871.7 C427.9,869.8 428.4,865.6 431.2,864.8 C434.0,864.0 438.4,867.3 442.5,866.7 C446.6,866.1 451.6,860.7 455.6,861.0 C459.7,861.3 463.4,868.5 466.8,868.5 C470.2,868.5 473.1,863.5 476.2,861.0 C479.3,858.5 481.8,856.4 485.5,853.6 C489.2,850.8 494.9,847.6 498.7,844.2 C502.4,840.8 505.3,836.4 508.0,833.0 C510.7,829.6 512.6,824.3 515.0,823.8 C517.4,823.3 520.2,826.5 522.5,829.8 C524.8,833.0 526.2,839.8 528.5,843.3 C530.8,846.8 533.2,849.8 536.0,850.8 C538.8,851.8 542.0,849.0 545.0,849.3 C548.0,849.5 550.9,850.3 553.9,852.3 C556.9,854.3 559.9,858.8 562.9,861.3 C565.9,863.8 568.9,865.5 571.9,867.2 C574.9,868.9 577.9,871.0 580.9,871.7 C583.9,872.5 586.9,871.2 589.9,871.7 C592.9,872.2 595.6,873.9 598.8,874.7 C602.0,875.6 605.8,876.7 609.0,876.8 C612.2,876.9 615.0,875.8 618.0,875.3 C621.0,874.8 623.9,874.8 626.9,873.8 C629.9,872.8 632.9,870.8 635.9,869.3 C638.9,867.8 641.9,864.7 644.9,864.8 C647.9,864.9 650.9,869.0 653.9,870.0 C656.9,871.0 659.6,869.9 662.9,870.8 C666.1,871.7 670.0,873.0 673.4,875.3 C676.8,877.5 681.4,882.8 683.0,884.3" fill="none" stroke="#f08a84" stroke-width="3.2" stroke-dasharray="4 7" stroke-linecap="round" stroke-linejoin="round"/>
<path d="M129.0,853.0 C130.4,850.1 134.7,840.6 137.3,835.5 C139.9,830.4 142.4,825.2 144.6,822.3 C146.8,819.4 148.4,818.9 150.4,818.0 C152.4,817.1 154.1,819.2 156.3,817.2 C158.5,815.2 160.7,810.3 163.6,806.3 C166.5,802.3 170.6,796.5 173.8,793.1 C177.0,789.7 179.7,786.3 182.6,785.8 C185.5,785.3 188.4,787.8 191.3,790.2 C194.2,792.6 197.2,798.0 200.1,800.4 C203.0,802.8 205.4,803.8 208.8,804.8 C212.2,805.8 217.8,806.4 220.5,806.3 C223.2,806.2 223.2,805.5 225.0,804.0 C226.8,802.5 228.5,799.1 231.0,797.0 C233.5,794.9 236.9,794.6 240.0,791.1 C243.1,787.6 246.2,782.7 249.3,776.1 C252.4,769.5 255.9,759.0 258.7,751.8 C261.5,744.6 264.2,736.2 266.2,733.1 C268.2,730.0 269.5,731.9 270.9,733.1 C272.3,734.4 273.4,740.9 274.6,740.6 C275.9,740.3 277.3,736.5 278.4,731.2 C279.5,725.9 279.8,714.3 281.2,708.7 C282.6,703.1 284.6,701.0 286.8,697.5 C289.0,694.0 292.1,691.5 294.3,688.0 C296.5,684.5 297.9,680.0 300.0,676.8 C302.1,673.5 304.5,671.5 306.7,668.5 C308.9,665.5 311.1,662.9 313.3,658.5 C315.5,654.1 318.3,644.1 320.0,641.9 C321.7,639.7 322.1,642.2 323.3,645.2 C324.6,648.2 326.1,659.6 327.5,660.2 C328.9,660.8 330.4,652.2 331.6,648.6 C332.8,645.0 333.6,638.9 334.9,638.6 C336.1,638.3 337.9,643.6 339.1,646.9 C340.4,650.2 341.1,657.4 342.4,658.5 C343.6,659.6 345.4,656.3 346.6,653.5 C347.9,650.7 349.1,648.3 349.9,641.9 C350.7,635.5 351.1,626.4 351.6,615.3 C352.1,604.1 352.3,587.5 353.0,575.0 C353.7,562.5 354.8,545.8 356.0,540.0 C357.2,534.2 358.9,532.5 360.0,540.0 C361.1,547.5 361.6,572.8 362.4,585.3 C363.2,597.8 363.9,605.3 364.9,615.3 C365.9,625.3 367.1,636.3 368.2,645.2 C369.3,654.1 370.4,660.2 371.5,668.5 C372.6,676.8 373.9,686.0 374.9,695.1 C375.9,704.2 376.6,714.5 377.4,723.4 C378.2,732.3 379.1,739.8 379.9,748.4 C380.7,757.0 381.1,764.4 382.0,775.0 C382.9,785.6 384.3,802.3 385.4,811.9 C386.5,821.5 387.1,826.6 388.4,832.8 C389.6,839.0 390.9,845.5 392.9,849.3 C394.9,853.0 397.9,854.0 400.4,855.3 C402.9,856.5 405.6,858.0 407.8,856.8 C410.0,855.5 412.1,849.8 413.8,847.8 C415.6,845.8 416.8,843.8 418.3,844.8 C419.8,845.8 421.6,857.6 422.8,853.8 C424.0,849.9 424.7,831.5 425.6,821.7 C426.6,811.9 427.6,800.0 428.5,795.0 C429.4,790.0 430.3,790.1 431.2,791.8 C432.1,793.4 432.9,798.3 434.0,804.9 C435.1,811.5 435.8,825.2 437.8,831.1 C439.8,837.0 443.9,842.0 446.2,840.4 C448.5,838.8 449.9,831.1 451.8,821.7 C453.7,812.4 455.9,795.2 457.5,784.3 C459.1,773.4 460.0,765.6 461.2,756.2 C462.4,746.8 463.5,740.0 464.9,728.1 C466.3,716.2 468.1,697.1 469.5,684.9 C470.9,672.7 472.1,661.4 473.2,655.0 C474.3,648.6 475.2,646.7 476.2,646.7 C477.2,646.7 478.1,650.4 479.2,655.0 C480.3,659.6 481.8,667.4 483.0,674.4 C484.2,681.4 485.5,691.1 486.7,696.9 C487.9,702.6 489.0,708.9 490.4,708.9 C491.8,708.9 493.5,699.9 494.9,696.9 C496.3,693.9 497.2,690.9 498.7,690.9 C500.2,690.9 502.3,698.1 503.9,696.9 C505.5,695.6 506.6,687.0 508.4,683.4 C510.1,679.8 512.5,676.0 514.4,675.2 C516.3,674.5 518.1,676.0 519.6,678.9 C521.1,681.8 522.0,686.9 523.4,692.4 C524.8,697.9 526.4,705.2 527.9,711.9 C529.4,718.6 530.9,726.8 532.4,732.8 C533.9,738.8 535.2,744.0 536.9,747.8 C538.6,751.5 540.8,755.0 542.8,755.3 C544.8,755.5 546.7,751.9 548.8,749.3 C550.9,746.7 553.9,739.9 555.6,739.6 C557.4,739.4 558.2,743.2 559.3,747.8 C560.4,752.4 561.2,762.2 562.3,767.2 C563.4,772.2 564.6,774.5 566.0,778.0 C567.4,781.5 568.7,786.8 570.4,787.9 C572.1,789.0 574.6,785.6 576.4,784.9 C578.1,784.1 579.1,782.1 580.9,783.4 C582.6,784.6 584.4,789.4 586.9,792.4 C589.4,795.4 592.9,797.8 595.8,801.4 C598.7,805.0 602.3,810.8 604.5,813.9 C606.7,817.0 607.2,820.4 609.0,819.9 C610.8,819.4 612.8,813.4 615.0,810.9 C617.2,808.4 620.0,805.6 622.5,804.9 C625.0,804.1 627.9,808.1 629.9,806.4 C631.9,804.6 632.6,798.5 634.4,794.4 C636.1,790.3 638.4,783.0 640.4,781.7 C642.4,780.5 644.4,783.9 646.4,786.9 C648.4,789.9 650.1,798.3 652.4,799.7 C654.6,801.1 657.6,795.2 659.9,795.2 C662.1,795.2 663.6,799.2 665.9,799.7 C668.1,800.2 671.2,797.1 673.4,798.2 C675.6,799.3 677.7,804.3 679.3,806.4 C680.9,808.5 682.4,810.2 683.0,811.0" fill="none" stroke="#1fa8e0" stroke-width="3.2" stroke-dasharray="4 7" stroke-linecap="round" stroke-linejoin="round"/>
<path d="M129.0,888.0 C130.1,888.5 133.7,891.5 135.8,891.0 C137.9,890.5 139.0,886.6 141.7,885.1 C144.4,883.6 148.5,882.7 151.9,882.2 C155.3,881.7 159.7,882.0 162.1,882.2 C164.5,882.4 164.6,883.9 166.5,883.6 C168.4,883.4 170.9,881.7 173.8,880.7 C176.7,879.7 180.8,878.5 184.0,877.8 C187.2,877.1 189.6,876.4 192.8,876.4 C196.0,876.4 199.8,877.3 203.0,877.8 C206.2,878.3 208.9,879.2 211.8,879.3 C214.7,879.4 217.5,879.0 220.5,878.5 C223.5,878.0 226.8,877.5 230.0,876.4 C233.2,875.2 236.2,873.6 240.0,871.6 C243.8,869.6 248.7,867.3 253.1,864.2 C257.5,861.1 262.4,855.1 266.2,852.9 C269.9,850.7 272.8,853.0 275.6,851.0 C278.4,849.0 280.3,842.6 283.1,840.7 C285.9,838.8 289.0,840.6 292.4,839.8 C295.8,839.0 300.3,837.0 303.7,836.1 C307.1,835.2 310.2,833.9 313.0,834.2 C315.8,834.5 317.7,836.6 320.5,837.9 C323.3,839.2 327.4,841.4 330.0,841.8 C332.6,842.2 333.2,839.5 336.0,840.3 C338.8,841.0 343.8,847.3 346.5,846.3 C349.2,845.3 350.8,838.3 352.5,834.3 C354.2,830.3 355.8,822.5 357.0,822.3 C358.2,822.0 358.9,828.5 359.9,832.8 C360.9,837.0 361.6,842.1 362.9,847.8 C364.1,853.5 365.9,861.5 367.4,867.2 C368.9,872.9 370.1,878.5 371.9,882.2 C373.6,886.0 376.1,888.7 377.9,889.7 C379.6,890.7 380.9,889.7 382.4,888.2 C383.9,886.7 384.9,882.0 386.9,880.7 C388.9,879.5 391.4,880.2 394.4,880.7 C397.4,881.2 401.7,882.7 404.9,883.7 C408.1,884.7 410.8,886.7 413.8,886.7 C416.8,886.8 419.9,884.7 422.8,884.0 C425.7,883.3 427.9,882.5 431.2,882.6 C434.5,882.7 438.8,885.0 442.5,884.5 C446.2,884.0 450.6,880.1 453.7,879.8 C456.8,879.5 458.7,881.7 461.2,882.6 C463.7,883.5 466.2,886.8 468.7,885.4 C471.2,884.0 473.4,878.3 476.2,874.2 C479.0,870.1 481.8,864.4 485.5,861.0 C489.2,857.6 495.3,855.1 498.7,853.6 C502.1,852.1 503.6,854.5 506.1,851.7 C508.6,848.9 511.1,838.9 513.6,836.7 C516.1,834.6 518.5,835.7 521.0,838.8 C523.5,841.9 526.0,850.6 528.5,855.3 C531.0,860.0 533.2,865.7 536.0,867.2 C538.8,868.7 542.0,864.9 545.0,864.3 C548.0,863.7 550.9,862.0 553.9,863.5 C556.9,865.0 559.9,870.5 562.9,873.2 C565.9,876.0 568.9,877.8 571.9,880.0 C574.9,882.2 578.1,885.3 580.9,886.7 C583.6,888.1 585.9,888.7 588.4,888.2 C590.9,887.7 593.1,884.0 595.8,883.7 C598.5,883.5 602.3,886.1 604.8,886.7 C607.2,887.3 607.8,887.2 610.5,887.2 C613.2,887.2 617.8,887.0 621.0,886.5 C624.2,886.0 627.2,885.2 629.9,884.3 C632.6,883.4 634.9,882.8 637.4,881.3 C639.9,879.8 642.4,875.5 644.9,875.3 C647.4,875.0 649.4,878.5 652.4,879.8 C655.4,881.0 659.6,882.0 662.9,882.8 C666.1,883.5 669.4,883.1 671.9,884.3 C674.4,885.5 675.9,887.5 677.8,890.2 C679.6,892.9 682.1,899.0 683.0,900.7" fill="none" stroke="#1fa8e0" stroke-width="3.2" stroke-dasharray="4 7" stroke-linecap="round" stroke-linejoin="round"/>
<path d="M129.0,871.0 C131.1,869.0 138.4,861.8 141.7,858.8 C145.0,855.8 146.6,854.0 149.0,853.0 C151.4,852.0 153.6,854.0 156.3,853.0 C159.0,852.0 162.1,849.2 165.0,847.2 C167.9,845.2 171.1,843.0 173.8,841.3 C176.5,839.6 178.2,837.4 181.1,836.9 C184.0,836.4 188.1,837.3 191.3,838.4 C194.5,839.5 197.2,842.3 200.1,843.5 C203.0,844.7 205.4,845.2 208.8,845.7 C212.2,846.2 217.0,846.9 220.5,846.4 C224.0,845.9 227.4,844.2 230.0,842.8 C232.6,841.4 233.9,839.6 236.2,837.9 C238.5,836.1 240.9,834.8 243.7,832.3 C246.5,829.8 250.0,826.7 253.1,823.0 C256.2,819.3 259.9,813.3 262.5,809.9 C265.1,806.5 267.0,803.6 269.0,802.4 C271.0,801.1 272.9,804.3 274.6,802.4 C276.3,800.5 277.7,794.7 279.3,791.1 C280.9,787.5 282.1,782.7 284.0,780.8 C285.9,778.9 287.5,779.7 290.5,779.9 C293.5,780.1 299.0,782.1 301.8,781.8 C304.6,781.5 304.9,780.4 307.4,778.0 C309.9,775.6 314.3,769.2 316.8,767.7 C319.3,766.2 320.2,768.1 322.4,768.7 C324.6,769.3 327.7,772.0 330.0,771.4 C332.3,770.8 333.8,765.3 336.0,765.4 C338.2,765.5 341.0,772.2 343.5,772.2 C346.0,772.2 348.9,768.3 351.0,765.4 C353.1,762.5 354.7,754.2 356.2,755.0 C357.7,755.8 358.8,763.7 359.9,769.9 C361.0,776.1 361.9,786.1 362.9,792.4 C363.9,798.6 364.4,802.7 365.9,807.4 C367.4,812.1 370.1,816.6 371.9,820.8 C373.6,825.0 374.9,829.9 376.4,832.8 C377.9,835.7 379.1,837.9 380.9,838.1 C382.6,838.4 384.6,834.7 386.9,834.3 C389.1,833.9 392.1,835.9 394.4,835.8 C396.6,835.7 398.4,832.9 400.4,833.6 C402.4,834.4 404.1,838.4 406.3,840.3 C408.5,842.2 411.5,844.1 413.8,844.8 C416.1,845.4 417.7,846.5 420.0,844.2 C422.3,841.9 425.0,834.2 427.5,831.1 C430.0,828.0 432.2,824.6 435.0,825.5 C437.8,826.4 441.2,837.0 444.3,836.7 C447.4,836.4 451.2,826.1 453.7,823.6 C456.2,821.1 457.1,820.8 459.3,821.7 C461.5,822.6 464.3,829.8 466.8,829.2 C469.3,828.6 471.8,820.8 474.3,818.0 C476.8,815.2 479.3,812.7 481.8,812.4 C484.3,812.1 486.5,818.6 489.3,816.1 C492.1,813.6 496.0,801.5 498.7,797.4 C501.4,793.2 503.5,793.7 505.4,791.2 C507.3,788.7 508.1,784.5 509.9,782.2 C511.6,780.0 513.8,777.5 515.9,777.7 C518.0,777.9 520.4,780.2 522.5,783.4 C524.6,786.6 526.5,791.4 528.5,796.9 C530.5,802.4 532.5,814.0 534.5,816.3 C536.5,818.5 538.4,811.4 540.4,810.4 C542.4,809.4 544.1,810.1 546.4,810.4 C548.6,810.6 551.6,810.2 553.9,811.9 C556.1,813.6 557.9,817.6 559.9,820.8 C561.9,824.0 563.6,828.5 565.9,831.3 C568.1,834.0 570.9,835.5 573.4,837.3 C575.9,839.0 578.4,840.3 580.9,841.8 C583.4,843.3 586.2,845.8 588.4,846.3 C590.6,846.8 592.1,844.0 594.3,844.8 C596.5,845.5 599.3,849.0 601.8,850.8 C604.2,852.6 606.5,855.5 609.0,855.8 C611.5,856.1 614.0,853.8 616.5,852.8 C619.0,851.8 621.5,850.4 624.0,849.8 C626.5,849.2 629.2,850.9 631.4,849.1 C633.6,847.4 635.4,841.4 637.4,839.3 C639.4,837.2 641.1,835.8 643.4,836.3 C645.6,836.8 648.1,841.3 650.9,842.3 C653.6,843.3 656.9,841.4 659.9,842.3 C662.9,843.2 666.2,846.1 668.9,847.6 C671.6,849.1 673.9,849.7 676.3,851.3 C678.6,852.9 681.9,856.0 683.0,857.0" fill="none" stroke="#e80000" stroke-width="4.1"  stroke-linejoin="round"/>
<path d="M129.0,871.0 C130.1,870.2 133.7,868.4 135.8,866.1 C137.9,863.8 139.5,859.8 141.7,857.4 C143.9,855.0 146.6,852.6 149.0,851.5 C151.4,850.4 153.6,852.0 156.3,850.8 C159.0,849.6 162.1,846.3 165.0,844.2 C167.9,842.1 171.1,840.2 173.8,838.4 C176.5,836.6 178.2,833.9 181.1,833.3 C184.0,832.7 188.1,833.6 191.3,834.7 C194.5,835.8 197.2,838.7 200.1,839.9 C203.0,841.1 205.4,841.5 208.8,842.0 C212.2,842.5 217.0,843.4 220.5,842.8 C224.0,842.2 227.4,839.8 230.0,838.4 C232.6,837.0 233.9,835.8 236.2,834.2 C238.5,832.6 240.9,831.4 243.7,828.6 C246.5,825.8 250.0,821.7 253.1,817.3 C256.2,812.9 259.9,806.6 262.5,802.4 C265.1,798.2 267.0,792.9 269.0,792.1 C271.0,791.3 272.9,799.1 274.6,797.7 C276.3,796.3 277.9,787.8 279.3,783.6 C280.7,779.4 281.2,775.2 283.1,772.4 C285.0,769.6 288.3,768.8 290.5,766.8 C292.7,764.8 294.0,762.4 296.2,760.2 C298.4,758.0 301.4,756.0 303.7,753.7 C306.0,751.5 307.4,749.2 310.0,746.7 C312.6,744.2 316.3,737.6 319.1,738.4 C321.9,739.2 324.0,751.6 326.6,751.7 C329.2,751.8 332.3,739.2 334.9,739.2 C337.5,739.2 339.9,751.0 342.4,751.7 C344.9,752.4 348.1,752.3 349.9,743.4 C351.7,734.5 352.2,712.6 353.2,698.5 C354.2,684.4 355.0,666.5 355.7,658.5 C356.4,650.5 356.7,649.1 357.4,650.2 C358.1,651.3 359.1,657.2 359.9,665.2 C360.7,673.2 361.6,687.4 362.4,698.5 C363.2,709.6 364.1,721.6 364.9,731.8 C365.7,742.0 366.2,751.9 367.4,759.5 C368.6,767.1 370.4,770.7 371.9,777.4 C373.4,784.1 374.9,792.2 376.4,799.9 C377.9,807.6 379.4,816.3 380.9,823.8 C382.4,831.3 383.9,838.8 385.4,844.8 C386.9,850.8 388.1,856.1 389.9,859.8 C391.6,863.5 393.6,865.7 395.9,867.2 C398.1,868.7 401.2,868.1 403.4,868.7 C405.6,869.3 407.2,871.5 409.3,871.0 C411.4,870.5 414.3,866.1 416.1,865.7 C417.9,865.3 418.7,867.7 420.0,868.5 C421.3,869.3 422.4,873.8 423.7,870.4 C424.9,867.0 426.2,853.5 427.5,847.9 C428.8,842.3 429.8,835.8 431.2,836.7 C432.6,837.7 434.3,849.2 435.9,853.6 C437.5,858.0 438.6,862.3 440.6,862.9 C442.6,863.5 445.6,861.3 448.1,857.3 C450.6,853.2 453.1,846.1 455.6,838.6 C458.1,831.1 460.9,819.6 463.1,812.4 C465.3,805.2 467.1,801.8 468.7,795.5 C470.2,789.2 471.1,780.2 472.4,774.9 C473.6,769.6 474.3,764.3 476.2,763.7 C478.1,763.1 481.4,767.8 483.7,771.2 C486.0,774.6 488.0,784.0 490.2,784.3 C492.4,784.6 494.4,774.6 496.8,773.0 C499.2,771.4 502.1,776.6 504.3,774.9 C506.5,773.2 508.1,766.1 509.9,762.8 C511.7,759.5 513.4,755.8 515.1,755.3 C516.9,754.8 518.8,757.1 520.4,759.8 C522.0,762.5 523.4,767.2 524.9,771.7 C526.4,776.2 528.0,781.5 529.4,786.7 C530.8,791.9 531.4,799.0 533.0,802.9 C534.6,806.8 536.8,809.5 539.0,810.4 C541.2,811.3 543.7,809.6 546.4,808.1 C549.1,806.6 553.1,801.3 555.4,801.4 C557.6,801.5 558.4,804.9 559.9,808.9 C561.4,812.9 562.4,821.1 564.4,825.3 C566.4,829.5 569.4,833.0 571.9,834.3 C574.4,835.5 576.9,831.8 579.4,832.8 C581.9,833.8 584.7,839.0 586.9,840.3 C589.1,841.5 590.3,839.0 592.8,840.3 C595.3,841.5 599.1,845.5 601.8,847.8 C604.5,850.1 606.5,854.0 609.0,854.3 C611.5,854.6 614.0,851.2 616.5,849.8 C619.0,848.4 621.5,846.7 624.0,846.1 C626.5,845.5 629.2,848.0 631.4,846.1 C633.6,844.2 635.4,837.6 637.4,834.9 C639.4,832.1 641.4,829.6 643.4,829.6 C645.4,829.6 647.6,833.0 649.4,834.9 C651.1,836.8 652.1,840.4 653.9,840.8 C655.6,841.2 657.9,837.0 659.9,837.1 C661.9,837.2 663.6,840.9 665.9,841.6 C668.1,842.4 671.4,840.7 673.4,841.6 C675.4,842.5 676.2,844.6 677.8,846.8 C679.4,849.0 682.1,853.6 683.0,855.0" fill="none" stroke="#1a6ab8" stroke-width="4.1"  stroke-linejoin="round"/>
</g>
<rect x="128.5" y="583.6" width="554.5" height="358.0" fill="none" stroke="#000" stroke-width="2.2"/>
<line x1="128.5" y1="583.60" x2="131.7" y2="583.60" stroke="#000" stroke-width="1.5"/>
<text x="101.3" y="592.0" font-size="23" text-anchor="middle" fill="#000">1</text>
<line x1="128.5" y1="643.27" x2="131.7" y2="643.27" stroke="#000" stroke-width="1.5"/>
<text x="101.3" y="651.7" font-size="23" text-anchor="middle" fill="#000">0.8</text>
<line x1="128.5" y1="702.93" x2="131.7" y2="702.93" stroke="#000" stroke-width="1.5"/>
<text x="101.3" y="711.3" font-size="23" text-anchor="middle" fill="#000">0.6</text>
<line x1="128.5" y1="762.60" x2="131.7" y2="762.60" stroke="#000" stroke-width="1.5"/>
<text x="101.3" y="771.0" font-size="23" text-anchor="middle" fill="#000">0.4</text>
<line x1="128.5" y1="822.27" x2="131.7" y2="822.27" stroke="#000" stroke-width="1.5"/>
<text x="101.3" y="830.7" font-size="23" text-anchor="middle" fill="#000">0.2</text>
<line x1="128.5" y1="881.93" x2="131.7" y2="881.93" stroke="#000" stroke-width="1.5"/>
<text x="101.3" y="890.3" font-size="23" text-anchor="middle" fill="#000">0</text>
<line x1="128.5" y1="941.60" x2="131.7" y2="941.60" stroke="#000" stroke-width="1.5"/>
<text x="101.3" y="950.0" font-size="23" text-anchor="middle" fill="#000">-0.2</text>
<text x="184.5" y="982.3" font-size="23" text-anchor="middle" fill="#000">60<tspan font-size="16.5" dy="-7.3">o</tspan><tspan dy="7.3">S</tspan></text>
<text x="296.7" y="982.3" font-size="23" text-anchor="middle" fill="#000">30<tspan font-size="16.5" dy="-7.3">o</tspan><tspan dy="7.3">S</tspan></text>
<text x="408.9" y="982.3" font-size="23" text-anchor="middle" fill="#000">EQ</text>
<text x="521.1" y="982.3" font-size="23" text-anchor="middle" fill="#000">30<tspan font-size="16.5" dy="-7.3">o</tspan><tspan dy="7.3">N</tspan></text>
<text x="633.3" y="982.3" font-size="23" text-anchor="middle" fill="#000">60<tspan font-size="16.5" dy="-7.3">o</tspan><tspan dy="7.3">N</tspan></text>
<rect x="545" y="590" width="123" height="70.5" fill="#fff" stroke="#000" stroke-width="1.8"/>
<line x1="557.2" y1="609.4" x2="597.4" y2="609.4" stroke="#ff0000" stroke-width="4.5"/>
<text x="605" y="616.9" font-size="20.5" fill="#000">NDP</text>
<line x1="557.2" y1="638.4" x2="597.4" y2="638.4" stroke="#1a6fc0" stroke-width="4.5"/>
<text x="605" y="645.9" font-size="20.5" fill="#000">NDX</text>
<text transform="translate(40.3,765.9) rotate(-90)" font-size="27.5" text-anchor="middle" fill="#000">NDP<tspan font-size="18" dy="7">74m</tspan><tspan dy="-7"> or NDX</tspan><tspan font-size="18" dy="7">74m</tspan><tspan dy="-7"> : C export</tspan></text>
<text x="409" y="1060" font-size="27.5" text-anchor="middle" fill="#000">Latitude</text>
</svg></body></html>
